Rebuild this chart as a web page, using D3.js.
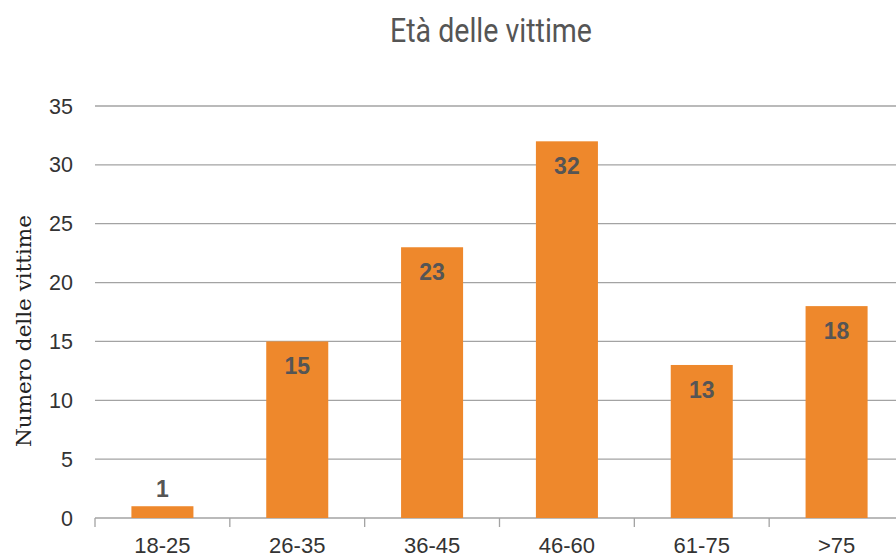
<!DOCTYPE html>
<html><head><meta charset="utf-8">
<script src="https://cdn.jsdelivr.net/npm/d3@7"></script>
<style>body{margin:0;background:#fff}svg{display:block}</style>
</head><body>
<svg id="c" width="896" height="558"></svg>
<script>
const categories = ["18-25","26-35","36-45","46-60","61-75",">75"];
const values = [1,15,23,32,13,18];
const yTicks = [0,5,10,15,20,25,30,35];
const title = "Età delle vittime";
const yLabel = "Numero delle vittime";

const svg = d3.select("#c");
const x = d3.scaleBand().domain(categories).range([95,904]).paddingInner(0.54).paddingOuter(0.27);
const y = d3.scaleLinear().domain([0,35]).range([518,106]);
const step = x.step();
const x0 = x.range()[0];

// gridlines
svg.append("g").selectAll("line").data(yTicks).join("line")
  .attr("x1",x0).attr("x2",896).attr("y1",d=>y(d)).attr("y2",d=>y(d))
  .attr("stroke","#a3a3a3").attr("stroke-width",1.3);

// x ticks at band boundaries
svg.append("g").selectAll("line").data(d3.range(categories.length+1)).join("line")
  .attr("x1",i=>x0+i*step).attr("x2",i=>x0+i*step).attr("y1",y(0)).attr("y2",y(0)+9)
  .attr("stroke","#a3a3a3").attr("stroke-width",1.3);

// y tick labels
svg.append("g").selectAll("text").data(yTicks).join("text")
  .attr("x",73).attr("y",d=>y(d)+7.5).attr("text-anchor","end")
  .attr("font-family","'Liberation Sans', Arial, sans-serif").attr("font-size",21.5)
  .attr("fill","#333").text(d=>d);

// bars
svg.append("g").selectAll("rect").data(values).join("rect")
  .attr("x",(d,i)=>x(categories[i])).attr("width",x.bandwidth())
  .attr("y",d=>y(d)).attr("height",d=>y(0)-y(d)).attr("fill","#EE882C");

// value labels
svg.append("g").selectAll("text").data(values).join("text")
  .attr("x",(d,i)=>x(categories[i])+x.bandwidth()/2)
  .attr("y",d=> d<3 ? y(d)-9 : y(d)+33)
  .attr("text-anchor","middle")
  .attr("font-family","'Liberation Sans', Arial, sans-serif").attr("font-weight","bold")
  .attr("font-size",23).attr("fill","#555").text(d=>d);

// x labels
svg.append("g").selectAll("text").data(categories).join("text")
  .attr("x",d=>x(d)+x.bandwidth()/2).attr("y",553).attr("text-anchor","middle")
  .attr("font-family","'Liberation Sans', Arial, sans-serif").attr("font-size",22)
  .attr("fill","#333").text(d=>d);

// title
svg.append("text").attr("x",491).attr("y",42).attr("text-anchor","middle")
  .attr("font-family","Roboto, 'Liberation Sans', sans-serif").attr("font-size",33)
  .attr("textLength",202).attr("lengthAdjust","spacingAndGlyphs")
  .attr("fill","#555").text(title);

// y label
svg.append("text").attr("transform","translate(31,331) rotate(-90)").attr("text-anchor","middle")
  .attr("font-family","'DejaVu Serif', 'Liberation Serif', serif").attr("font-size",20)
  .attr("textLength",232).attr("lengthAdjust","spacingAndGlyphs")
  .attr("fill","#222").text(yLabel);
</script>
</body></html>
